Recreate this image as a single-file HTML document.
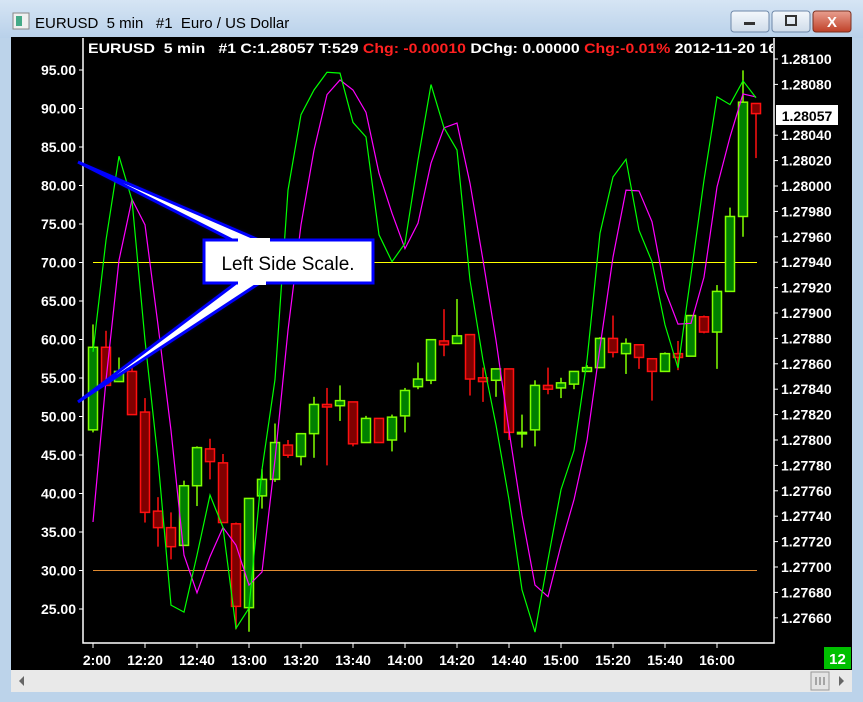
<!DOCTYPE html>
<html><head><meta charset="utf-8"><style>
html,body{margin:0;padding:0;background:#bcd3ea;}
svg{display:block;font-family:"Liberation Sans",sans-serif;}
</style></head><body>
<svg id="chart" width="863" height="702" viewBox="0 0 863 702" xmlns="http://www.w3.org/2000/svg">
<defs>
<linearGradient id="tb" x1="0" y1="0" x2="0" y2="1"><stop offset="0" stop-color="#d6e5f4"/><stop offset="1" stop-color="#b9d1ea"/></linearGradient>
<linearGradient id="cb" x1="0" y1="0" x2="0" y2="1"><stop offset="0" stop-color="#e8a090"/><stop offset="1" stop-color="#c04028"/></linearGradient>
<linearGradient id="bb" x1="0" y1="0" x2="0" y2="1"><stop offset="0" stop-color="#f4f8fc"/><stop offset="1" stop-color="#cfdcea"/></linearGradient>
<clipPath id="plotclip"><rect x="83" y="38" width="691" height="605"/></clipPath>
<clipPath id="hdrclip"><rect x="83" y="38" width="690" height="20"/></clipPath>
<clipPath id="timeclip"><rect x="83" y="644" width="760" height="26"/></clipPath>
<filter id="glow" x="-20%" y="-20%" width="140%" height="140%"><feGaussianBlur stdDeviation="2"/></filter>
</defs>
<rect x="0" y="0" width="863" height="702" fill="#bcd3ea"/>
<rect x="0" y="0" width="863" height="38" fill="url(#tb)"/>
<rect x="13" y="13" width="16" height="16" fill="#f0f0f0" stroke="#888"/>
<rect x="16" y="16" width="6" height="10" fill="#4a8"/>
<text x="35" y="28" font-size="15" fill="#000" xml:space="preserve">EURUSD  5 min   #1  Euro / US Dollar</text>
<g><rect x="731" y="11" width="38" height="21" rx="3" fill="url(#bb)" stroke="#6d87a8"/><rect x="744" y="22" width="11" height="3" fill="#333"/></g>
<g><rect x="772" y="11" width="38" height="21" rx="3" fill="url(#bb)" stroke="#6d87a8"/><rect x="786" y="16" width="10" height="9" fill="none" stroke="#333" stroke-width="2"/></g>
<g><rect x="813" y="11" width="38" height="21" rx="3" fill="url(#cb)" stroke="#7a3020"/><text x="832" y="27" font-size="15" font-weight="bold" fill="#fff" text-anchor="middle">X</text></g>
<rect x="11" y="37" width="841" height="633" fill="#000"/>
<rect x="11" y="670" width="841" height="22" fill="#e9e9e9"/>
<polygon points="24,676 24,686 19,681" fill="#666"/>
<rect x="811" y="672" width="18" height="18" fill="#e4e4e4" stroke="#999"/>
<path d="M816 677v8M820 677v8M824 677v8" stroke="#666"/>
<polygon points="839,676 839,686 844,681" fill="#666"/>
<g id="hlines"></g>
<g id="series" clip-path="url(#plotclip)"></g>
<g id="axes"></g>
<g clip-path="url(#hdrclip)">
<text x="88" y="53" font-size="14" font-weight="bold" fill="#fff" textLength="712" lengthAdjust="spacingAndGlyphs" xml:space="preserve">EURUSD  5 min   #1 C:1.28057 T:529 <tspan fill="#ff2020">Chg: -0.00010</tspan> DChg: 0.00000 <tspan fill="#ff2020">Chg:-0.01%</tspan> 2012-11-20 16:15</text>
</g>
<g>
<polygon points="78,162 240,244 268,244" fill="#1a1aff" filter="url(#glow)" opacity="0.6"/>
<polygon points="78,402 240,280 264,280" fill="#1a1aff" filter="url(#glow)" opacity="0.6"/>
<polygon points="78,162 240,244 268,244" fill="#fff" stroke="#0000ff" stroke-width="3" stroke-linejoin="miter"/>
<polygon points="78,402 240,280 264,280" fill="#fff" stroke="#0000ff" stroke-width="3"/>
<rect x="204" y="240" width="169" height="43" fill="#fff" stroke="#0000ff" stroke-width="3"/>
<rect x="238" y="238" width="32" height="6" fill="#fff"/>
<rect x="238" y="279" width="28" height="6" fill="#fff"/>
<text x="288" y="270" font-size="19" fill="#000" text-anchor="middle">Left Side Scale.</text>
</g>
<g>
<rect x="776" y="105" width="62" height="20" fill="#fff"/>
<text x="807" y="121" font-size="14" font-weight="bold" fill="#000" text-anchor="middle">1.28057</text>
</g>
<g>
<rect x="824" y="647" width="27" height="22" fill="#00c000"/>
<text x="837.5" y="664" font-size="15" font-weight="bold" fill="#fff" text-anchor="middle">12</text>
</g>
</svg>
<script>
const opens  = [1.27808,1.27873,1.27846,1.27854,1.27822,1.27744,1.27731,1.27717,1.27764,1.27793,1.27782,1.27734,1.27668,1.27756,1.27769,1.27796,1.27787,1.27805,1.27828,1.27827,1.27830,1.27798,1.27817,1.27800,1.27819,1.27842,1.27847,1.27878,1.27876,1.27883,1.27849,1.27847,1.27856,1.27805,1.27808,1.27843,1.27841,1.27844,1.27854,1.27857,1.27880,1.27868,1.27875,1.27864,1.27854,1.27868,1.27866,1.27897,1.27885,1.27917,1.27976,1.28065];
const highs  = [1.27891,1.27886,1.27865,1.27857,1.27833,1.27755,1.27743,1.27768,1.27795,1.27801,1.27789,1.27735,1.27754,1.27777,1.27813,1.27800,1.27805,1.27834,1.27841,1.27843,1.27830,1.27819,1.27817,1.27820,1.27841,1.27861,1.27879,1.27903,1.27911,1.27883,1.27857,1.27856,1.27856,1.27820,1.27847,1.27857,1.27849,1.27854,1.27859,1.27881,1.27898,1.27880,1.27875,1.27864,1.27869,1.27878,1.27898,1.27898,1.27922,1.27983,1.28091,1.28065];
const lows   = [1.27806,1.27843,1.27846,1.27820,1.27735,1.27716,1.27706,1.27717,1.27748,1.27769,1.27735,1.27651,1.27649,1.27746,1.27767,1.27786,1.27780,1.27786,1.27780,1.27815,1.27795,1.27798,1.27798,1.27791,1.27806,1.27840,1.27844,1.27866,1.27876,1.27835,1.27830,1.27834,1.27800,1.27794,1.27795,1.27836,1.27833,1.27840,1.27854,1.27857,1.27865,1.27852,1.27856,1.27831,1.27854,1.27855,1.27866,1.27884,1.27856,1.27917,1.27960,1.28022];
const closes = [1.27873,1.27843,1.27854,1.27820,1.27743,1.27731,1.27716,1.27764,1.27794,1.27783,1.27735,1.27669,1.27754,1.27769,1.27798,1.27788,1.27805,1.27828,1.27826,1.27831,1.27797,1.27817,1.27798,1.27818,1.27839,1.27848,1.27879,1.27875,1.27882,1.27848,1.27846,1.27856,1.27806,1.27806,1.27843,1.27840,1.27845,1.27854,1.27857,1.27880,1.27869,1.27876,1.27865,1.27854,1.27868,1.27865,1.27898,1.27885,1.27917,1.27976,1.28066,1.28057];
const fastOsc = [58.4,72.9,83.8,78.1,59.9,44.4,25.5,24.6,32.0,39.8,35.6,22.5,25.1,43.1,54.8,79.4,89.2,92.4,94.7,94.6,88.2,86.3,73.6,70.1,72.5,83.3,93.1,87.5,84.6,67.7,57.3,48.9,39.2,27.5,22.0,31.4,40.5,45.6,57.3,73.8,81.1,83.4,74.2,70.1,61.9,56.3,68.4,80.7,91.5,90.5,93.6,91.4];
const slowOsc = [36.3,54.7,70.3,78.2,74.9,61.9,48.2,32.0,27.1,31.8,35.6,33.3,28.1,29.8,44.4,61.2,74.9,84.6,91.8,93.7,92.4,89.5,81.6,76.4,71.8,75.1,82.9,87.5,88.1,80.3,70.3,59.9,48.2,37.2,28.1,26.6,33.3,39.2,46.9,59.0,70.7,79.4,79.3,75.3,66.4,62.0,62.1,68.1,79.8,86.3,91.9,91.5];
const timeLabels = ["12:00","12:20","12:40","13:00","13:20","13:40","14:00","14:20","14:40","15:00","15:20","15:40","16:00"];
const leftTicks = [25,30,35,40,45,50,55,60,65,70,75,80,85,90,95];
const rightTicks = [1.27660,1.27680,1.27700,1.27720,1.27740,1.27760,1.27780,1.27800,1.27820,1.27840,1.27860,1.27880,1.27900,1.27920,1.27940,1.27960,1.27980,1.28000,1.28020,1.28040,1.28080,1.28100];
const levelLines = [70,30];

const NS="http://www.w3.org/2000/svg";
function xb(i){return 93+13*i;}
function py(p){return 59+(1.281-p)/0.0002*25.4;}
function vy(v){return 609-(v-25)*7.7;}
function mk(tag,attrs,parent){const e=document.createElementNS(NS,tag);for(const k in attrs)e.setAttribute(k,attrs[k]);parent.appendChild(e);return e;}

const hl=document.getElementById('hlines');
levelLines.forEach((v,k)=>{
  const l=mk('line',{x1:93,x2:757,y1:vy(v),y2:vy(v),stroke:k===0?'#ffff00':'#e08a30','stroke-width':1},hl);
  
  
});

const ser=document.getElementById('series');
opens.forEach((o,i)=>{
  const c=closes[i],up=c>=o,x=xb(i);
  const edge=up?'#80ff00':'#ff1010',fill=up?'#008000':'#800000';
  const g=mk('g',{},ser);
  
  
  mk('line',{x1:x,x2:x,y1:py(highs[i]),y2:py(lows[i]),stroke:edge,'stroke-width':1.5},g);
  const top=py(Math.max(o,c)),bot=py(Math.min(o,c));
  mk('rect',{x:x-4.5,y:top,width:9,height:Math.max(bot-top,1.5),fill:fill,stroke:edge,'stroke-width':1.5},g);
});
function line(arr,color,name){
  const p=mk('polyline',{points:arr.map((v,i)=>xb(i)+','+vy(v).toFixed(1)).join(' '),fill:'none',stroke:color,'stroke-width':1.2},ser);
  
  
}
line(slowOsc,'#ff00ff','slow-oscillator-line');
line(fastOsc,'#00ff00','fast-oscillator-line');

const ax=document.getElementById('axes');
const fr=mk('path',{d:'M83 38V643H774V38',fill:'none',stroke:'#fff','stroke-width':1.5},ax);


leftTicks.forEach(v=>{
  mk('line',{x1:79,x2:83,y1:vy(v),y2:vy(v),stroke:'#fff'},ax);
  const t=mk('text',{x:76,y:vy(v)+5,'font-size':14,'font-weight':'bold',fill:'#fff','text-anchor':'end'},ax);
  t.textContent=v.toFixed(2);
  
  
});
rightTicks.forEach(p=>{
  mk('line',{x1:774,x2:778,y1:py(p),y2:py(p),stroke:'#fff'},ax);
  const t=mk('text',{x:781,y:py(p)+5,'font-size':14,'font-weight':'bold',fill:'#fff'},ax);
  t.textContent=p.toFixed(5);
  
  
});
const tg=mk('g',{'clip-path':'url(#timeclip)'},ax);
timeLabels.forEach((s,k)=>{
  const x=xb(k*4);
  mk('line',{x1:x,x2:x,y1:643,y2:648,stroke:'#fff'},ax);
  const t=mk('text',{x:x,y:665,'font-size':14,'font-weight':'bold',fill:'#fff','text-anchor':'middle'},tg);
  t.textContent=s;
  
  
});
</script>
</body></html>
